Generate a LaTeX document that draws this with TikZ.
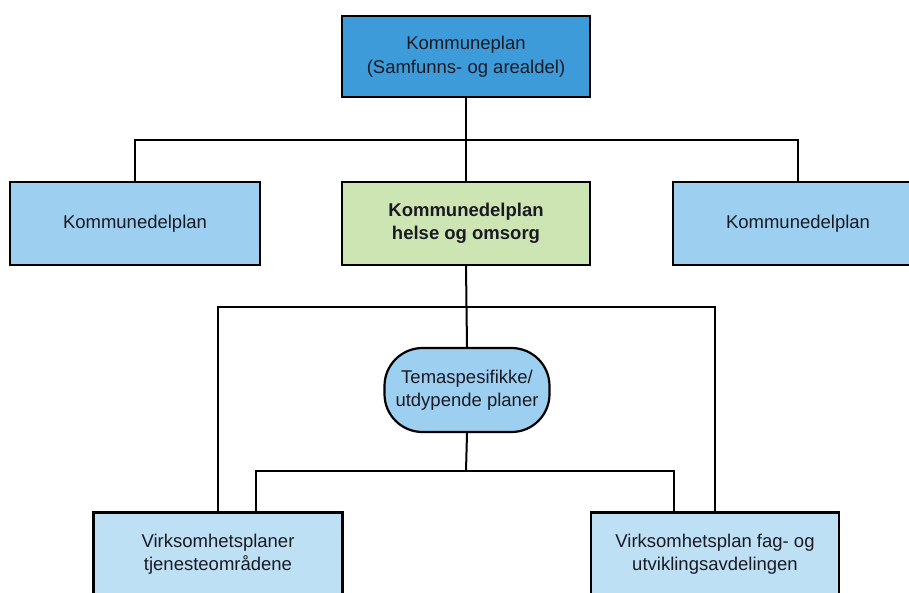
\documentclass[tikz,border=0pt]{standalone}
\usepackage{fontspec}
\setmainfont{Liberation Sans}
\definecolor{topblue}{HTML}{3D9BDA}
\definecolor{midblue}{HTML}{9DCFF0}
\definecolor{lightblue}{HTML}{BEE0F5}
\definecolor{lightgreen}{HTML}{CDE5B3}
\definecolor{txt}{HTML}{1A1A24}
\tikzset{
  box/.style={draw=black, line width=2.2pt, rectangle, align=center, text=txt,
    font=\fontsize{18.5}{23.5}\selectfont, inner sep=0pt},
  conn/.style={draw=black, line width=2pt},
}
\begin{document}
\begin{tikzpicture}[x=1pt,y=-1pt]
\useasboundingbox[fill=white] (0,0) rectangle (909,592);
\node[box, fill=topblue, minimum width=248, minimum height=81] (top) at (466,56.5) {Kommuneplan\\(Samfunns- og arealdel)};
\node[box, fill=midblue, minimum width=250, minimum height=83] (left) at (135,223.5) {Kommunedelplan};
\node[box, fill=lightgreen, minimum width=248, minimum height=83, font=\fontsize{18.5}{23.5}\selectfont\bfseries] (green) at (466,223.5) {Kommunedelplan\\helse og omsorg};
\node[box, fill=midblue, minimum width=250, minimum height=83] (right) at (798,223.5) {Kommunedelplan};
\node[box, fill=midblue, minimum width=165, minimum height=84, rounded corners=38] (tema) at (467,390) {Temaspesifikke/\\utdypende planer};
\node[box, fill=lightblue, minimum width=249, minimum height=83] (bl) at (218,554) {Virksomhetsplaner\\tjenesteområdene};
\node[box, fill=lightblue, minimum width=248, minimum height=83] (br) at (715,554) {Virksomhetsplan fag- og\\utviklingsavdelingen};
\coordinate (j1) at (466,140);
\coordinate (j2) at (466,307);
\coordinate (j3) at (466,471);
\coordinate (blx) at (256,513);
\coordinate (brx) at (674,513);
\draw[conn] (top.south) -- (green.north);
\draw[conn] (left.north) |- (j1) -| (right.north);
\draw[conn] (green.south) -- (tema.north);
\draw[conn] (bl.north) |- (j2) -| (br.north);
\draw[conn] (tema.south) -- (j3);
\draw[conn] (blx) |- (j3) -| (brx);
\end{tikzpicture}
\end{document}
